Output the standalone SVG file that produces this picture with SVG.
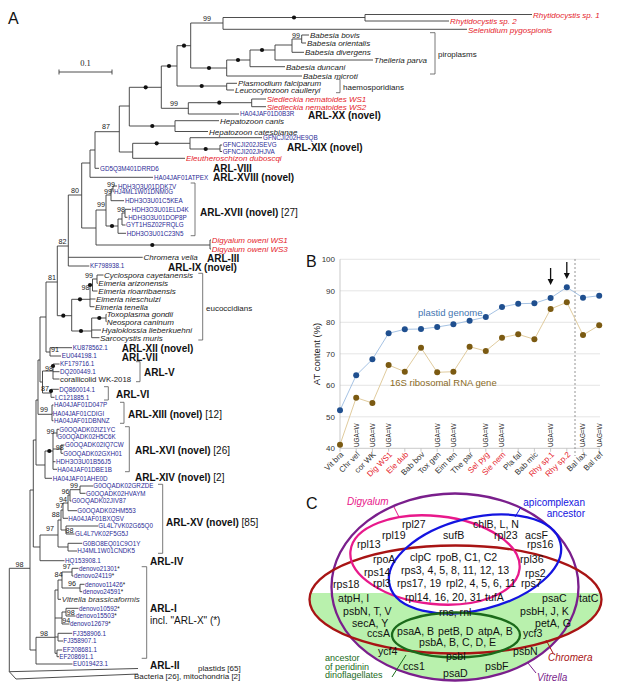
<svg xmlns="http://www.w3.org/2000/svg" width="617" height="700" viewBox="0 0 617 700">
<style>
text{font-family:"Liberation Sans",Arial,sans-serif}
.pl{font-size:16px;fill:#111}
.sp{font-size:8px;font-style:italic;fill:#222}
.spr{font-size:8px;font-style:italic;fill:#e5232b}
.acc{font-size:6.3px;fill:#2b2b96}
.arl{font-size:10px;font-weight:bold;fill:#111}
.arn{font-weight:normal}
.bs{font-size:7.2px;fill:#222;text-anchor:middle}
.grp{font-size:8px;fill:#222}
.tr{stroke:#3a3a3a;stroke-width:0.9;fill:none}
.br{stroke:#555;stroke-width:0.8;fill:none}
.dot{fill:#111}
.tick{font-size:8px;fill:#333;text-anchor:end}
.xl{font-size:8px;fill:#333;text-anchor:end}
.xr{fill:#e5232b}
.ug{font-size:6.4px;fill:#222}
.grid{stroke:#dedede;stroke-width:0.8}
.vg{font-size:10.6px;fill:#111}
</style>
<defs>
<clipPath id="lowclip"><rect x="0" y="593" width="617" height="107"/></clipPath>
</defs>

<!-- PANEL A -->
<g id="panelA">
<text class="pl" x="8" y="24">A</text>
<g id="scalebar">
<path class="tr" d="M59,72H112M59,69.5V74.5M112,69.5V74.5"/>
<text x="85.5" y="66" font-size="8.5" fill="#222" text-anchor="middle" style="font-family:'Liberation Serif',serif">0.1</text>
</g>
<g id="tree-connectors">
<path class="tr" d="M223,17.5H365M365,14.5V21M365,14.5H532M365,21H449M223,17.5V29.3M223,29.3H467M190.7,23H223M190.7,23V68M190.7,68H226.7
M226.7,60V76M226.7,60H250M226.7,76H302M250,50V66.7M250,50H275M250,66.7H285M275,45V60M275,45H292M275,60H373M292,39V52.3M292,39H301.7M292,52.3H304M301.7,35V43M301.7,35H309M301.7,43H306
M177,45.7V86M177,45.7H190.7M177,86H226.7M226.7,83.3V90M226.7,83.3H237M226.7,90H234
M161.3,66V108.3M161.3,66H177M161.3,108.3H188.3M188.3,102.7V114M188.3,102.7H251.7M188.3,114H239M251.7,99V106.7M251.7,99H266M251.7,106.7H266
M129.3,87.3V126M129.3,87.3H161.3M129.3,126H175M175,120.7V131.5M175,120.7H219M175,131.5H208
M119.3,106V152M119.3,106H129.3M119.3,152H132.7M132.7,143.3V158.3M132.7,143.3H190M132.7,158.3H185M190,137.7V149M190,137.7H262M190,149H220M220,145V151.5M220,145H222M220,151.5H222
M95,131.7V168.3M95,131.7H119.3M95,168.3H99M90,150V177.3M90,150H95M90,177.3H153
M81.7,163V228M81.7,163H90M81.7,228H96M96,210V245M96,210H106M96,245H210M210,240V249M210,240H211M210,249H211
M106,195V226M106,195H111M106,226H118M111,189V200.7M111,189H113M111,200.7H124M113,186V191.7M113,186H117M113,191.7H113.5
M118,219V233.3M118,219H122M118,233.3H126M122,213V225M122,213H125M122,225H125.5M125,209.3V217.3M125,209.3H131M125,217.3H127.5
M68.3,195V266M68.3,195H81.7M68.3,257.3H142.7M68.3,266H89.3M57.3,246V315.7M57.3,246H68.3M57.3,315.7H71.7
M71.7,299.3V331M71.7,299.3H90M71.7,331H91.7M90,285V306.7M90,285H92.5M90,299H95.5M90,306.7H94.5M92.5,279V291M92.5,279H97M92.5,291H97.5M97,275V283.3M97,275H103.5M97,283.3H97.8
M91.7,318V337.7M91.7,318H106M91.7,330H101M91.7,337.7H99.5M106,314.3V321.7M106,314.3H106.5M106,321.7H106.5
M46,282V352M46,282H57.3M46,352H50M50,347.7V356M50,347.7H72M50,356H61
M40,317V382M40,317H46M40,382H42.5M42.5,371V393M42.5,371H53M42.5,393H51M53,364V379M53,364H59.5M53,371.7H59.5M53,379H59.5M51,389.3V397.3M51,389.3H58.8M51,397.3H54.5
M38,360V414.3M38,360H40M38,414.3H52M52,405V420.7M52,405H53.5M52,413.3H52.5M52,420.7H53.5
M36,400V465M36,400H38M36,465H45M45,451V478.3M45,451H53M45,478.3H52M53,433V469.3M53,433H57M53,449H61M53,461.7H55.5M53,469.3H57M57,429.3V436.7M57,429.3H59M61,445V453.3M61,445H64.5M61,453.3H63
M33.3,440V547M33.3,440H36M33.3,547H40M40,535V560.7M40,535H58M40,560.7H64.5M58,520V547M58,520H61M58,547H68M68,543.3V551M68,543.3H82.2M68,551H77
M61,510V530M61,510H63M61,530H66M66,526V534M66,526H98M66,534H74.5M63,503V518.3M63,503H68M63,518.3H68M68,495V510.7M68,495H70M68,510.7H77M70,489.7V501M70,489.7H80M70,501H71.3M80,486V493.3M80,486H93M80,493.3H85.5
M30,490V650M30,490H33.3M30,650H36M9.3,568.3V671.7M9.3,568.3H30M36,637.3V664M36,637.3H55M36,664H72.5
M55,590V653.3M55,590H58M55,618H62M55,637H58M55,653.3H57M58,580V599.3M58,580H62M58,599.3H61M62,572V588M62,572H72M62,588H80M72,568.3V576M72,568.3H78.5M72,576H73.5M80,584.3V591.7M80,584.3H84.5M80,591.7H82.2
M62,612V624M62,612H66M62,624H69.5M66,608.3V616M66,608.3H78.5M66,616H75.5M58,633.3V641M58,633.3H72.2M58,641H63M57,650V656.7M57,650H62.2M57,656.7H59
M9.3,671.7L138,668.5M9.3,671.7L16,679L138,674"/>
<g class="dot">
<circle cx="294" cy="17.5" r="2.1"/><circle cx="184" cy="45.7" r="2.1"/><circle cx="209" cy="68" r="2.1"/><circle cx="238" cy="60" r="2.1"/><circle cx="262" cy="50" r="2.1"/><circle cx="169" cy="66" r="2.1"/><circle cx="201.7" cy="86" r="2.1"/><circle cx="145.7" cy="87.3" r="2.1"/><circle cx="219.3" cy="102.7" r="2.1"/><circle cx="152.3" cy="126" r="2.1"/><circle cx="156.7" cy="143.3" r="2.1"/><circle cx="205.7" cy="149" r="2.1"/><circle cx="152.3" cy="245" r="2.1"/><circle cx="112" cy="226" r="2.1"/><circle cx="63.3" cy="315.7" r="2.1"/><circle cx="80" cy="299.3" r="2.1"/><circle cx="81" cy="331" r="2.1"/><circle cx="90" cy="285" r="2.1"/><circle cx="99.3" cy="318" r="2.1"/><circle cx="53" cy="366" r="2.1"/><circle cx="51" cy="391" r="2.1"/><circle cx="49.3" cy="451" r="2.1"/>
</g>
<g id="bootstraps">
<text class="bs" x="207" y="20.5">99</text><text class="bs" x="296" y="37.5">99</text><text class="bs" x="174" y="106">99</text><text class="bs" x="106" y="129">87</text>
<text class="bs" x="111" y="187">99</text><text class="bs" x="108" y="193.5">99</text><text class="bs" x="101" y="207">99</text><text class="bs" x="121" y="212">98</text>
<text class="bs" x="75" y="192.5">80</text><text class="bs" x="62.5" y="243.5">82</text><text class="bs" x="52" y="280">81</text><text class="bs" x="89" y="277.5">99</text><text class="bs" x="85.5" y="290">98</text>
<text class="bs" x="55" y="352">91</text><text class="bs" x="49" y="370.5">98</text><text class="bs" x="45" y="391">87</text><text class="bs" x="44" y="412">99</text><text class="bs" x="50.5" y="434">99</text><text class="bs" x="59.7" y="450">98</text>
<text class="bs" x="74" y="488">99</text><text class="bs" x="65.5" y="494">96</text><text class="bs" x="63" y="501.5">94</text><text class="bs" x="59.7" y="508">97</text><text class="bs" x="55.8" y="517">88</text><text class="bs" x="50" y="531">97</text><text class="bs" x="69.5" y="533">88</text>
<text class="bs" x="66.7" y="569">97</text><text class="bs" x="58.5" y="577">84</text><text class="bs" x="72" y="586">96</text><text class="bs" x="19.5" y="566.5">98</text><text class="bs" x="70.8" y="615">98</text><text class="bs" x="66.3" y="623">94</text><text class="bs" x="44" y="635.6">98</text>
</g>
</g>
<g id="leaves">
<text class="spr" x="533" y="17.5">Rhytidocystis sp. 1</text>
<text class="spr" x="450" y="24">Rhytidocystis sp. 2</text>
<text class="spr" x="468" y="32.5">Selenidium pygospionis</text>
<text class="sp" x="310" y="38">Babesia bovis</text>
<text class="sp" x="307" y="46">Babesia orientalis</text>
<text class="sp" x="305" y="55.3">Babesia divergens</text>
<text class="sp" x="374" y="63">Theileria parva</text>
<text class="sp" x="286" y="69.7">Babesia duncani</text>
<text class="sp" x="303" y="79">Babesia microti</text>
<text class="sp" x="238" y="86.3">Plasmodium falciparum</text>
<text class="sp" x="235" y="93">Leucocytozoon caulleryi</text>
<text class="spr" x="266.7" y="102">Siedleckia nematoides WS1</text>
<text class="spr" x="266.7" y="109.7">Siedleckia nematoides WS2</text>
<text class="acc" x="240" y="116.3">HA04JAF01D0B3R</text>
<text class="sp" x="220" y="123.7">Hepatozoon canis</text>
<text class="sp" x="209" y="134.5">Hepatozoon catesbianae</text>
<text class="acc" x="263" y="140">GFNCJI202HE9QB</text>
<text class="acc" x="222.7" y="147.3">GFNCJI202JSEVG</text>
<text class="acc" x="222.7" y="153.8">GFNCJI202JHJVA</text>
<text class="spr" x="186" y="161.3">Eleutheroschizon duboscqi</text>
<text class="acc" x="100" y="170.6">GD5Q3M401DRRD6</text>
<text class="acc" x="154" y="179.6">HA04JAF01ATPEX</text>
<text class="acc" x="118" y="188.5">HDH3O3U01DDK7V</text>
<text class="acc" x="114" y="194">HJ4ML1W01DNM0G</text>
<text class="acc" x="125" y="203">HDH3O3U01C5KEA</text>
<text class="acc" x="131.7" y="211.6">HDH3O3U01ELD4K</text>
<text class="acc" x="128.3" y="219.6">HDH3O3U01DOP8P</text>
<text class="acc" x="126" y="227.3">GYT1HSZ02FRQLG</text>
<text class="acc" x="126.7" y="235.6">HDH3O3U01C23N5</text>
<text class="spr" x="211.7" y="243">Digyalum oweni WS1</text>
<text class="spr" x="211.7" y="252">Digyalum oweni WS3</text>
<text class="sp" x="143.5" y="260.3">Chromera velia</text>
<text class="acc" x="90" y="268.3">KF798938.1</text>
<text class="sp" x="104" y="278">Cyclospora cayetanensis</text>
<text class="sp" x="98.3" y="286.3">Eimeria arizonensis</text>
<text class="sp" x="98.3" y="294">Eimeria rioarribaensis</text>
<text class="sp" x="96" y="302">Eimeria nieschulzi</text>
<text class="sp" x="95" y="309.7">Eimeria tenella</text>
<text class="sp" x="106.7" y="317.3">Toxoplasma gondii</text>
<text class="sp" x="106.7" y="324.7">Neospora caninum</text>
<text class="sp" x="101.7" y="333">Hyaloklossia lieberkuehni</text>
<text class="sp" x="100" y="340.7">Sarcocystis muris</text>
<text class="acc" x="72.7" y="350">KU878562.1</text>
<text class="acc" x="61.7" y="358.3">EU044198.1</text>
<text class="acc" x="60" y="366.3">KF179716.1</text>
<text class="acc" x="60" y="374">DQ200449.1</text>
<text x="60" y="382" font-size="7.8" fill="#222">corallicolid WK-2018</text>
<text class="acc" x="59.3" y="391.6">DQ860014.1</text>
<text class="acc" x="55" y="399.6">LC121885.1</text>
<text class="acc" x="54" y="407.3">HA04JAF01D047P</text>
<text class="acc" x="52.7" y="415.6">HA04JAF01CDIGI</text>
<text class="acc" x="54" y="423">HA04JAF01DBNNZ</text>
<text class="acc" x="59.3" y="431.6">G0OQADK02IZ1YC</text>
<text class="acc" x="57.3" y="439">G0OQADK02H5C6K</text>
<text class="acc" x="65" y="447.3">G0OQADK02IQ7CW</text>
<text class="acc" x="63.3" y="455.6">G0OQADK02GXH01</text>
<text class="acc" x="56" y="464">HDH3O3U01B56J5</text>
<text class="acc" x="57.3" y="471.6">HA04JAF01DBE1B</text>
<text class="acc" x="52.7" y="480.6">HA04JAF01AHE0D</text>
<text class="acc" x="93.3" y="488.3">G0OQADK02GRZDE</text>
<text class="acc" x="86" y="495.6">G0OQADK02HVAYM</text>
<text class="acc" x="71.7" y="503.3">G0OQADK02JIV87</text>
<text class="acc" x="77.3" y="513">G0OQADK02HM553</text>
<text class="acc" x="68.3" y="520.6">HA04JAF01BXQSV</text>
<text class="acc" x="98.3" y="528.3">GL4L7VK02G65Q0</text>
<text class="acc" x="75" y="536.3">GL4L7VK02F5G5J</text>
<text class="acc" x="82.7" y="545.6">G0BO8EQ01C9O1Y</text>
<text class="acc" x="77.3" y="553.3">HJ4ML1W01CNDK5</text>
<text class="acc" x="65" y="563">HQ153908.1</text>
<text class="acc" x="79" y="570.6">denovo21301<tspan fill="#222">*</tspan></text>
<text class="acc" x="74" y="578.3">denovo24119<tspan fill="#222">*</tspan></text>
<text class="acc" x="85" y="586.6">denovo11426<tspan fill="#222">*</tspan></text>
<text class="acc" x="82.7" y="594">denovo24591<tspan fill="#222">*</tspan></text>
<text class="sp" x="61.7" y="602.3" style="fill:#333">Vitrella brassicaformis</text>
<text class="acc" x="79" y="610.6">denovo10592<tspan fill="#222">*</tspan></text>
<text class="acc" x="76" y="618.3">denovo15503<tspan fill="#222">*</tspan></text>
<text class="acc" x="70" y="626.3">denovo12679<tspan fill="#222">*</tspan></text>
<text class="acc" x="72.7" y="635.6">FJ358906.1</text>
<text class="acc" x="63.3" y="643.3">FJ358907.1</text>
<text class="acc" x="62.7" y="652.3">EF208681.1</text>
<text class="acc" x="59.3" y="659">EF208691.1</text>
<text class="acc" x="73" y="666.3">EU019423.1</text>
</g>
<g id="clade-labels">
<path class="br" d="M430,32.7H435V74H430M336,79.3H340V92.7H336M190.7,183H195V235.7H190.7M198.3,273.3H202.7V340H198.3M136,361.7H140V381.7H136M104,386.7H108.3V400H104M120,402.3H124V423.3H120M125,426.7H129.3V471.7H125M158,484.3H162.7V553.3H158M141.7,566.7H146.7V658.3H141.7"/>
<text class="grp" x="438" y="56.5">piroplasms</text>
<text class="grp" x="343" y="90">haemosporidians</text>
<text class="grp" x="206" y="310.5">eucoccidians</text>
<text class="arl" x="308" y="119">ARL-XX (novel)</text>
<text class="arl" x="287" y="151">ARL-XIX (novel)</text>
<text class="arl" x="213" y="172">ARL-VIII</text>
<text class="arl" x="213" y="181">ARL-XVIII (novel)</text>
<text class="arl" x="200" y="216">ARL-XVII (novel)<tspan class="arn"> [27]</tspan></text>
<text class="arl" x="207" y="261.5">ARL-III</text>
<text class="arl" x="168" y="271">ARL-IX (novel)</text>
<text class="arl" x="121.7" y="352">ARL-XII (novel)</text>
<text class="arl" x="121.7" y="360.5">ARL-VII</text>
<text class="arl" x="144" y="376">ARL-V</text>
<text class="arl" x="116" y="397.5">ARL-VI</text>
<text class="arl" x="128" y="417.5">ARL-XIII (novel)<tspan class="arn"> [12]</tspan></text>
<text class="arl" x="135" y="454">ARL-XVI (novel)<tspan class="arn"> [26]</tspan></text>
<text class="arl" x="135" y="481">ARL-XIV (novel)<tspan class="arn"> [2]</tspan></text>
<text class="arl" x="166" y="526">ARL-XV (novel)<tspan class="arn"> [85]</tspan></text>
<text class="arl" x="150" y="565">ARL-IV</text>
<text class="arl" x="150" y="612">ARL-I</text>
<text x="150" y="623.5" font-size="10" fill="#111">incl. "ARL-X" (*)</text>
<text class="arl" x="150" y="669">ARL-II</text>
<text class="grp" x="198" y="671">plastids [65]</text>
<text class="grp" x="134" y="679">Bacteria [26], mitochondria [2]</text>
</g>
</g>

<!-- PANEL B -->
<g id="panelB">
<text class="pl" x="306" y="267">B</text>
<g id="grid">
<path class="grid" d="M340,259.3H600M340,290.8H600M340,322.3H600M340,353.8H600M340,385.3H600M340,416.8H600"/>
<path stroke="#bbb" stroke-width="0.8" fill="none" d="M340,259.3V448.3M340,448.3H600M340,448.3v3.5M356.2,448.3v3.5M372.4,448.3v3.5M388.6,448.3v3.5M404.8,448.3v3.5M421,448.3v3.5M437.2,448.3v3.5M453.4,448.3v3.5M469.6,448.3v3.5M485.8,448.3v3.5M502,448.3v3.5M518.2,448.3v3.5M534.4,448.3v3.5M550.6,448.3v3.5M566.8,448.3v3.5M583,448.3v3.5M599.2,448.3v3.5"/>
<path stroke="#888" stroke-width="0.9" stroke-dasharray="2,2" fill="none" d="M575,259V456"/>
<text class="tick" x="335" y="262.3">100</text><text class="tick" x="335" y="293.8">90</text><text class="tick" x="335" y="325.3">80</text><text class="tick" x="335" y="356.8">70</text><text class="tick" x="335" y="388.3">60</text><text class="tick" x="335" y="419.8">50</text><text class="tick" x="335" y="451.3">40</text>
<text transform="translate(320,354) rotate(-90)" font-size="9.5" fill="#222" text-anchor="middle">AT content (%)</text>
</g>
<g id="series-plastid">
<polyline fill="none" stroke="#9bbbe0" stroke-width="0.9" points="340,410.3 356.2,375.3 372.4,359.3 388.6,333.3 404.8,329.3 421,329 437.2,327 453.4,324.3 469.6,320.7 485.8,317 502,307 518.2,303.7 534.4,303.3 550.6,298 566.8,287.3 583,297.7 599.2,295.7"/>
<g fill="#1f4f8f">
<circle cx="340" cy="410.3" r="3"/><circle cx="356.2" cy="375.3" r="3"/><circle cx="372.4" cy="359.3" r="3"/><circle cx="388.6" cy="333.3" r="3"/><circle cx="404.8" cy="329.3" r="3"/><circle cx="421" cy="329" r="3"/><circle cx="437.2" cy="327" r="3"/><circle cx="453.4" cy="324.3" r="3"/><circle cx="469.6" cy="320.7" r="3"/><circle cx="485.8" cy="317" r="3"/><circle cx="502" cy="307" r="3"/><circle cx="518.2" cy="303.7" r="3"/><circle cx="534.4" cy="303.3" r="3"/><circle cx="550.6" cy="298" r="3"/><circle cx="566.8" cy="287.3" r="3"/><circle cx="583" cy="297.7" r="3"/><circle cx="599.2" cy="295.7" r="3"/>
</g>
<text x="418" y="315.5" font-size="9.5" fill="#3f74b0">plastid genome</text>
</g>
<g id="series-16S">
<polyline fill="none" stroke="#dcc592" stroke-width="0.9" points="340,444.7 356.2,397.7 372.4,403 388.6,365 404.8,371.7 421,347.7 437.2,372.3 453.4,371.7 469.6,346.7 485.8,351 502,337.7 518.2,334.3 534.4,339.3 550.6,309 566.8,302.3 583,335 599.2,325.3"/>
<g fill="#7b5a12">
<circle cx="340" cy="444.7" r="3"/><circle cx="356.2" cy="397.7" r="3"/><circle cx="372.4" cy="403" r="3"/><circle cx="388.6" cy="365" r="3"/><circle cx="404.8" cy="371.7" r="3"/><circle cx="421" cy="347.7" r="3"/><circle cx="437.2" cy="372.3" r="3"/><circle cx="453.4" cy="371.7" r="3"/><circle cx="469.6" cy="346.7" r="3"/><circle cx="485.8" cy="351" r="3"/><circle cx="502" cy="337.7" r="3"/><circle cx="518.2" cy="334.3" r="3"/><circle cx="534.4" cy="339.3" r="3"/><circle cx="550.6" cy="309" r="3"/><circle cx="566.8" cy="302.3" r="3"/><circle cx="583" cy="335" r="3"/><circle cx="599.2" cy="325.3" r="3"/>
</g>
<text x="390" y="385.5" font-size="9.5" fill="#8a6a1e">16S ribosomal RNA gene</text>
</g>
<g id="arrows">
<path stroke="#111" stroke-width="1.3" d="M550.6,268V280M566.8,262V274"/>
<path fill="#111" d="M547.6,279L553.6,279L550.6,285ZM563.8,273L569.8,273L566.8,279Z"/>
</g>
<g id="codes" class="ug">
<text transform="translate(358.5,447) rotate(-90)">UGA=W</text>
<text transform="translate(374.7,447) rotate(-90)">UGA=W</text>
<text transform="translate(390.9,447) rotate(-90)">UGA=W</text>
<text transform="translate(439.5,447) rotate(-90)">UGA=W</text>
<text transform="translate(455.7,447) rotate(-90)">UGA=W</text>
<text transform="translate(488.1,447) rotate(-90)">UGA=W</text>
<text transform="translate(504.3,447) rotate(-90)">UGA=W</text>
<text transform="translate(552.9,447) rotate(-90)">UGA=W</text>
<text transform="translate(585.3,447) rotate(-90)">UAG=W</text>
<text transform="translate(601.5,447) rotate(-90)">UAG=W</text>
</g>
<g id="xlabels" class="xl">
<text transform="translate(344,455) rotate(-45)">Vit bra</text>
<text transform="translate(360.2,455) rotate(-45)">Chr vel</text>
<text transform="translate(376.4,455) rotate(-45)">cor WK</text>
<text class="xr" transform="translate(392.6,455) rotate(-45)">Dig WS1</text>
<text class="xr" transform="translate(408.8,455) rotate(-45)">Ele dub</text>
<text transform="translate(425,455) rotate(-45)">Bab bov</text>
<text transform="translate(441.2,455) rotate(-45)">Tox gen</text>
<text transform="translate(457.4,455) rotate(-45)">Eim ten</text>
<text transform="translate(473.6,455) rotate(-45)">The par</text>
<text class="xr" transform="translate(489.8,455) rotate(-45)">Sel pyg</text>
<text class="xr" transform="translate(506,455) rotate(-45)">Sie nem</text>
<text transform="translate(522.2,455) rotate(-45)">Pla fal</text>
<text transform="translate(538.4,455) rotate(-45)">Bab mic</text>
<text class="xr" transform="translate(554.6,455) rotate(-45)">Rhy sp.1</text>
<text class="xr" transform="translate(570.8,455) rotate(-45)">Rhy sp.2</text>
<text transform="translate(587,455) rotate(-45)">Bal lax</text>
<text transform="translate(603.2,455) rotate(-45)">Bal ref</text>
</g>
</g>

<!-- PANEL C -->
<g id="panelC">
<text class="pl" x="306" y="509">C</text>
<g id="venn-fill">
<g clip-path="url(#lowclip)" fill="#b9f1ad">
<ellipse cx="455.5" cy="599.5" rx="146" ry="54"/>
<ellipse cx="455" cy="587" rx="123.5" ry="93.5"/>
<ellipse cx="475" cy="564" rx="88" ry="46" transform="rotate(-14 475 564)" fill="#fff"/>
</g>
<ellipse cx="456" cy="635" rx="64" ry="22.5" fill="#b9f1ad"/>
</g>
<g id="set-Vitrella"><ellipse cx="455" cy="587" rx="123.5" ry="93.5" fill="none" stroke="#7a1f8c" stroke-width="2.3"/></g>
<g id="set-Chromera"><ellipse cx="455.5" cy="599.5" rx="146" ry="54" fill="none" stroke="#a81414" stroke-width="2.3"/></g>
<g id="set-Digyalum"><ellipse cx="435" cy="560" rx="85" ry="44" transform="rotate(6 435 560)" fill="none" stroke="#e8198b" stroke-width="2.3"/></g>
<g id="set-apicomplexan"><ellipse cx="475" cy="564" rx="88" ry="46" transform="rotate(-14 475 564)" fill="none" stroke="#1414e0" stroke-width="2.3"/></g>
<g id="set-dinoflagellate"><ellipse cx="456" cy="635" rx="64" ry="22.5" fill="none" stroke="#1b6b1b" stroke-width="2.3"/></g>
<g id="leaders" fill="none" stroke-width="1">
<path stroke="#e8198b" d="M394,507L399,517"/>
<path stroke="#1414e0" d="M521,507L515,517"/>
<path stroke="#1b6b1b" d="M392,677L406,655"/>
<path stroke="#a81414" d="M546,640L553,653"/>
<path stroke="#7a1f8c" d="M528,663L536,673"/>
</g>
<g id="set-labels">
<text x="347" y="505" font-size="10" font-style="italic" fill="#e8198b">Digyalum</text>
<text x="585" y="506" font-size="10" fill="#1414e0" text-anchor="end">apicomplexan</text>
<text x="585" y="517" font-size="10" fill="#1414e0" text-anchor="end">ancestor</text>
<text x="548" y="661" font-size="10" font-style="italic" fill="#a81414">Chromera</text>
<text x="537" y="681" font-size="10" font-style="italic" fill="#7a1f8c">Vitrella</text>
<text x="325" y="661" font-size="9" fill="#1b6b1b">ancestor</text>
<text x="325" y="669.5" font-size="9" fill="#1b6b1b">of peridinin</text>
<text x="325" y="678" font-size="9" fill="#1b6b1b">dinoflagellates</text>
</g>
<g id="genes">
<text class="vg" x="402" y="528">rpl27</text>
<text class="vg" x="382" y="539">rpl19</text>
<text class="vg" x="357" y="548">rpl13</text>
<text class="vg" x="443" y="539">sufB</text>
<text class="vg" x="473" y="528">chlB, L, N</text>
<text class="vg" x="494" y="539">rpl23</text>
<text class="vg" x="525" y="539">acsF</text>
<text class="vg" x="527" y="548">rps16</text>
<text class="vg" x="373" y="563">rpoA</text>
<text class="vg" x="410" y="561">clpC</text>
<text class="vg" x="436" y="561">rpoB, C1, C2</text>
<text class="vg" x="520" y="563">rpl36</text>
<text class="vg" x="364" y="576">rps14</text>
<text class="vg" x="401" y="574">rps3, 4, 5, 8, 11, 12, 13</text>
<text class="vg" x="525" y="577">rps2</text>
<text class="vg" x="333" y="588">rps18</text>
<text class="vg" x="373" y="587">rpl3</text>
<text class="vg" x="397" y="587">rps17, 19</text>
<text class="vg" x="446" y="587">rpl2, 4, 5, 6, 11</text>
<text class="vg" x="521" y="587">rps7</text>
<text class="vg" x="338" y="602">atpH, I</text>
<text class="vg" x="405" y="601">rpl14, 16, 20, 31</text>
<text class="vg" x="485" y="601">tufA</text>
<text class="vg" x="542" y="602">psaC</text>
<text class="vg" x="579" y="602">tatC</text>
<text class="vg" x="343" y="615">psbN, T, V</text>
<text class="vg" x="439" y="616">rns, rnl</text>
<text class="vg" x="520" y="615">psbH, J, K</text>
<text class="vg" x="352" y="627">secA, Y</text>
<text class="vg" x="535" y="627">petA, G</text>
<text class="vg" x="367" y="637">ccsA</text>
<text class="vg" x="397" y="635">psaA, B</text>
<text class="vg" x="438" y="635">petB, D</text>
<text class="vg" x="478" y="635">atpA, B</text>
<text class="vg" x="523" y="637">ycf3</text>
<text class="vg" x="419" y="646">psbA, B, C, D, E</text>
<text class="vg" x="378" y="655">ycf4</text>
<text class="vg" x="446" y="660">psbI</text>
<text class="vg" x="513" y="655">psbN</text>
<text class="vg" x="403" y="670">ccs1</text>
<text class="vg" x="485" y="670">psbF</text>
<text class="vg" x="443" y="677">psaD</text>
</g>
</g>
</svg>
